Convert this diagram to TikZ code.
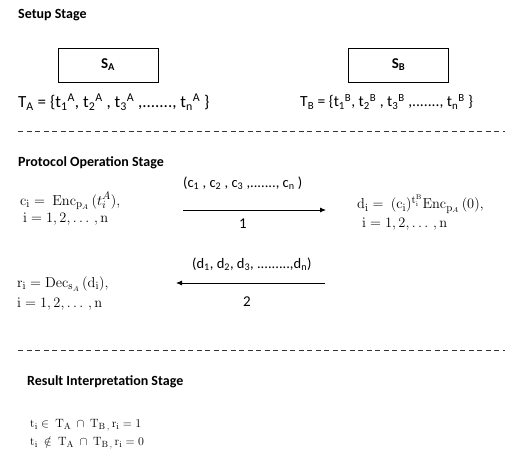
\documentclass[tikz,border=0pt]{standalone}
\usepackage[no-math]{fontspec}
\setmainfont{Carlito}
\usetikzlibrary{arrows.meta}
\tikzset{
  stagetitle/.style={anchor=west, inner sep=0pt, font=\fontsize{14}{16}\selectfont\bfseries},
  keybox/.style={draw, line width=0.9pt, minimum width=100pt, minimum height=34pt, font=\fontsize{15}{17}\selectfont\bfseries},
  settext/.style={anchor=west, inner sep=0pt, font=\fontsize{17}{19}\selectfont},
  mathtext/.style={anchor=west, inner sep=0pt, font=\fontsize{15}{17}\selectfont, align=left},
  msglabel/.style={anchor=west, inner sep=0pt, font=\fontsize{14.5}{17}\selectfont},
  steplabel/.style={inner sep=0pt, font=\fontsize{15}{17}\selectfont},
  restext/.style={anchor=west, inner sep=0pt, font=\fontsize{12.5}{14}\selectfont},
  sep/.style={dash pattern=on 5pt off 3.5pt, line width=0.7pt, draw=black!80},
  msgarrow/.style={line width=0.8pt, -{Latex[length=6pt,width=5pt]}}
}
\begin{document}
\begin{tikzpicture}[x=1pt,y=-1pt]
\useasboundingbox[fill=white] (0,0) rectangle (524,457);
% Setup stage
\node[stagetitle] (setup) at (18,15) {Setup Stage};
\node[keybox] (sa) at (108,65) {S\textsubscript{A}};
\node[keybox] (sb) at (398.5,65) {S\textsubscript{B}};
\node[settext] (ta) at (18,102) {T\textsubscript{A} = \{t\textsubscript{1}\textsuperscript{A}, t\textsubscript{2}\textsuperscript{A} , t\textsubscript{3}\textsuperscript{A} ,......., t\textsubscript{n}\textsuperscript{A} \}};
\node[settext, font=\fontsize{15.5}{18}\selectfont] (tb) at (300,102) {T\textsubscript{B} = \{t\textsubscript{1}\textsuperscript{B}, t\textsubscript{2}\textsuperscript{B} , t\textsubscript{3}\textsuperscript{B} ,......., t\textsubscript{n}\textsuperscript{B} \}};
\coordinate (s1l) at (18,131);
\coordinate (s1r) at (505,131);
\draw[sep] (s1l) -- (s1r);
% Protocol operation stage
\node[stagetitle] (proto) at (18,163) {Protocol Operation Stage};
\node[msglabel] (cmsg) at (183,183) {(c\textsubscript{1} , c\textsubscript{2} , c\textsubscript{3} ,......., c\textsubscript{n} )};
\node[mathtext] (ci) at (20,201) {$\mathrm{c_i} =\ \mathrm{Enc}_{\mathrm{p}_A}\,(t_i^A),$};
\node[mathtext] (ci2) at (23,219) {$\mathrm{i} = 1, 2, \ldots\,, \mathrm{n}$};
\coordinate (a1s) at (183,210);
\coordinate (a1e) at (326,210);
\draw[msgarrow] (a1s) -- (a1e);
\node[steplabel] (one) at (243,224) {1};
\node[mathtext] (di) at (357,204) {$\mathrm{d_i} =\ (\mathrm{c_i})^{\mathrm{t_i^B}}\mathrm{Enc}_{\mathrm{p}_A}\,(0),$};
\node[mathtext] (di2) at (362,224) {$\mathrm{i} = 1, 2, \ldots\,, \mathrm{n}$};
\node[msglabel] (dmsg) at (192,264) {(d\textsubscript{1}, d\textsubscript{2}, d\textsubscript{3}, .........,d\textsubscript{n})};
\coordinate (a2s) at (325,283);
\coordinate (a2e) at (176,283);
\draw[msgarrow] (a2s) -- (a2e);
\node[steplabel] (two) at (247,302) {2};
\node[mathtext] (ri) at (17,284) {$\mathrm{r_i} = \mathrm{Dec}_{\mathrm{s}_A}\,(\mathrm{d_i}),$};
\node[mathtext] (ri2) at (17,304) {$\mathrm{i} = 1, 2, \ldots\,, \mathrm{n}$};
\coordinate (s2l) at (18,350);
\coordinate (s2r) at (505,350);
\draw[sep] (s2l) -- (s2r);
% Result interpretation stage
\node[stagetitle] (result) at (27,382) {Result Interpretation Stage};
\node[restext] (res1) at (30,425) {$\mathrm{t_i} \in\ \mathrm{T_A}\ \cap\ \mathrm{T_{B\,,}}\,\mathrm{r_i} = 1$};
\node[restext] (res2) at (30,443) {$\mathrm{t_i}\ \notin\ \mathrm{T_A}\ \cap\ \mathrm{T_{B\,,}}\,\mathrm{r_i} = 0$};
\end{tikzpicture}
\end{document}
